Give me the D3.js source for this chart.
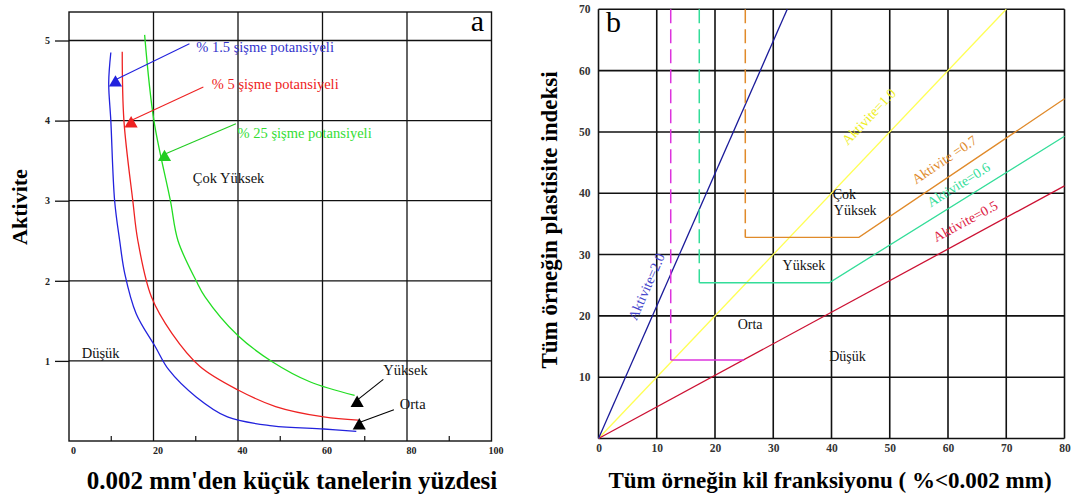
<!DOCTYPE html>
<html>
<head>
<meta charset="utf-8">
<script src="https://cdn.jsdelivr.net/npm/d3@7"></script>
<style>
  body { margin: 0; background: #fff; }
  text { font-family: "Liberation Serif", "Times New Roman", serif; }
</style>
</head>
<body>
<div id="chart"></div>
<script>
// ---- panel a : aktivite vs % < 0.002 mm
const xTicksA = [0, 20, 40, 60, 80, 100];
const xMinorA = [10, 30, 50, 70, 90];
const yTicksA = [1, 2, 3, 4, 5];

const curve15 = [[9.9, 4.85], [9.4, 4.47], [9.9, 4.0], [10.8, 3.0], [12.0, 2.5], [13.2, 2.09], [15.9, 1.59],
                 [20.4, 1.18], [23.6, 0.89], [30.1, 0.55], [37.5, 0.30], [48.1, 0.19], [60.3, 0.15], [68.0, 0.12]];
const curve5 = [[12.6, 4.86], [13.0, 4.0], [15.1, 3.0], [16.3, 2.5], [19.5, 1.8], [24.4, 1.34], [31.0, 0.93],
                [39.9, 0.64], [48.9, 0.43], [60.3, 0.30], [68.4, 0.26]];
const curve25 = [[17.9, 5.07], [20.1, 4.0], [24.0, 3.0], [25.8, 2.5], [30.1, 2.0], [32.2, 1.8], [39.9, 1.32],
                 [48.1, 0.99], [57.0, 0.74], [67.6, 0.57]];

// arrows: [from, to]
const arrowsA = [
  {from: [28.5, 4.96], to: [11.0, 4.51], color: "#2222dd"},
  {from: [31.8, 4.42], to: [14.7, 4.0], color: "#ee2222"},
  {from: [39.5, 3.96], to: [22.6, 3.58], color: "#22cc22"},
  {from: [74.4, 0.77], to: [68.2, 0.51], color: "#000"},
  {from: [76.9, 0.39], to: [68.7, 0.23], color: "#000"}
];
const labelsA = [
  {text: "% 1.5 şişme potansiyeli", at: [30.1, 4.86], color: "#3333cc"},
  {text: "% 5 şişme potansiyeli", at: [33.8, 4.39], color: "#ee2222"},
  {text: "% 25 şişme potansiyeli", at: [39.9, 3.78], color: "#33dd33"},
  {text: "Çok Yüksek", at: [29.3, 3.22], color: "#111"},
  {text: "Düşük", at: [3.0, 1.03], color: "#111"},
  {text: "Yüksek", at: [74.4, 0.82], color: "#111"},
  {text: "Orta", at: [78.3, 0.40], color: "#111"}
];

// ---- panel b : plastisite indeksi vs kil fraksiyonu
const xTicksB = [0, 10, 20, 30, 40, 50, 60, 70, 80];
const yTicksB = [0, 10, 20, 30, 40, 50, 60, 70];

const act20 = [[0, 0], [32.4, 70]];
const act10 = [[0, 0], [70, 70]];
const act05 = [[0, 0], [80, 41.2]];
const act07 = [[25.2, 32.8], [44.7, 32.8], [80, 55.4]];
const act06 = [[17.3, 25.4], [39.6, 25.4], [80, 49.3]];
const orta = [[12.4, 12.8], [25.0, 12.8]];
const dash07 = [[25.2, 70], [25.2, 32.8]];
const dash06 = [[17.3, 70], [17.3, 25.4]];
const dashOrta = [[12.4, 70], [12.4, 12.8]];

const lineLabelsB = [
  {text: "Aktivite=2.0", at: [9.6, 24.2], along: act20, color: "#4444cc", dy: -4},
  {text: "Aktivite=1.0", at: [47.5, 51.5], along: act10, color: "#eeee22", dy: -4},
  {text: "Aktivite =0.7", at: [60.2, 44.3], along: [[44.7, 32.8], [80, 55.4]], color: "#e08a2a", dy: -4},
  {text: "Aktivite=0.6", at: [62.6, 40.2], along: [[39.6, 25.4], [80, 49.3]], color: "#33dd99", dy: -4},
  {text: "Aktivite=0.5", at: [63.7, 34.2], along: act05, color: "#dd2244", dy: -4}
];
const labelsB = [
  {text: "Çok", at: [40.2, 39.1]},
  {text: "Yüksek", at: [40.4, 36.5]},
  {text: "Yüksek", at: [31.6, 27.5]},
  {text: "Orta", at: [23.9, 17.9]},
  {text: "Düşük", at: [39.6, 12.6]}
];

const W = 1073, H = 500;
const svg = d3.select("#chart").append("svg")
  .attr("width", W)
  .attr("height", H);

// ================= panel a =================
const xA = d3.scaleLinear().domain([0, 100]).range([69, 491.5]);
const yA = d3.scaleLinear().domain([0, 5]).range([441, 40.5]);
const topA = 12;

const ga = svg.append("g");

ga.selectAll(".hgrid").data(yTicksA).enter().append("line")
  .attr("x1", xA(0)).attr("x2", xA(100))
  .attr("y1", d => yA(d)).attr("y2", d => yA(d))
  .attr("stroke", "#111").attr("stroke-width", 1.3);

ga.selectAll(".vgrid").data(xTicksA.slice(1, -1)).enter().append("line")
  .attr("x1", d => xA(d)).attr("x2", d => xA(d))
  .attr("y1", yA(0)).attr("y2", topA)
  .attr("stroke", "#111").attr("stroke-width", 1.3);

ga.selectAll(".minor").data(xMinorA).enter().append("line")
  .attr("x1", d => xA(d)).attr("x2", d => xA(d))
  .attr("y1", yA(0)).attr("y2", yA(0) - 5)
  .attr("stroke", "#111").attr("stroke-width", 1.2);

ga.append("rect")
  .attr("x", xA(0)).attr("y", topA)
  .attr("width", xA(100) - xA(0)).attr("height", yA(0) - topA)
  .attr("fill", "none").attr("stroke", "#111").attr("stroke-width", 1.4);

const axA_y = ga.append("g")
  .attr("transform", `translate(${xA(0)},0)`)
  .call(d3.axisLeft(yA).tickValues(yTicksA).tickSize(14).tickPadding(5).tickFormat(d3.format("d")));
const axA_x = ga.append("g")
  .attr("transform", `translate(0,${yA(0)})`)
  .call(d3.axisBottom(xA).tickValues(xTicksA).tickSize(0).tickPadding(6).tickFormat(d3.format("d")));
[axA_y, axA_x].forEach(ax => {
  ax.select(".domain").remove();
  ax.selectAll("line").attr("stroke", "#111").attr("stroke-width", 1.3);
  ax.selectAll("text")
    .style("font-family", "'Liberation Serif', serif")
    .style("font-size", "10px").style("font-weight", "bold").attr("fill", "#222");
});
axA_x.selectAll("text").attr("dx", 4);

const lineA = d3.line().curve(d3.curveCatmullRom.alpha(0.5)).x(d => xA(d[0])).y(d => yA(d[1]));
[[curve15, "#2222dd"], [curve5, "#ee2222"], [curve25, "#22dd22"]].forEach(([pts, c]) => {
  ga.append("path").datum(pts)
    .attr("d", lineA)
    .attr("fill", "none").attr("stroke", c).attr("stroke-width", 1.3);
});

arrowsA.forEach(a => {
  ga.append("line")
    .attr("x1", xA(a.from[0])).attr("y1", yA(a.from[1]))
    .attr("x2", xA(a.to[0])).attr("y2", yA(a.to[1]))
    .attr("stroke", a.color).attr("stroke-width", 1.1);
  ga.append("path")
    .attr("d", d3.symbol(d3.symbolTriangle).size(75))
    .attr("transform", `translate(${xA(a.to[0])},${yA(a.to[1]) + 3})`)
    .attr("fill", a.color);
});

ga.selectAll(".lbl").data(labelsA).enter().append("text")
  .attr("x", d => xA(d.at[0])).attr("y", d => yA(d.at[1]))
  .attr("fill", d => d.color)
  .style("font-size", "14.5px")
  .text(d => d.text);

ga.append("text")
  .attr("x", 484).attr("y", 31)
  .attr("text-anchor", "end")
  .style("font-size", "30px")
  .text("a");

ga.append("text")
  .attr("transform", "translate(27,207) rotate(-90)")
  .attr("text-anchor", "middle")
  .style("font-size", "22px").style("font-weight", "bold")
  .text("Aktivite");

ga.append("text")
  .attr("x", 292).attr("y", 489)
  .attr("text-anchor", "middle")
  .style("font-size", "25px").style("font-weight", "bold")
  .text("0.002 mm'den küçük tanelerin yüzdesi");

// ================= panel b =================
const xB = d3.scaleLinear().domain([0, 80]).range([598.5, 1064.5]);
const yB = d3.scaleLinear().domain([0, 70]).range([438.5, 9.3]);

const gb = svg.append("g");

gb.selectAll(".hgrid").data(yTicksB).enter().append("line")
  .attr("x1", xB(0)).attr("x2", xB(80))
  .attr("y1", d => yB(d)).attr("y2", d => yB(d))
  .attr("stroke", "#111").attr("stroke-width", 1.6);
gb.selectAll(".vgrid").data(xTicksB).enter().append("line")
  .attr("x1", d => xB(d)).attr("x2", d => xB(d))
  .attr("y1", yB(0)).attr("y2", yB(70))
  .attr("stroke", "#111").attr("stroke-width", 1.6);

const axB_y = gb.append("g")
  .attr("transform", `translate(${xB(0)},0)`)
  .call(d3.axisLeft(yB).tickValues(yTicksB.slice(1)).tickSize(0).tickPadding(8));
const axB_x = gb.append("g")
  .attr("transform", `translate(0,${yB(0)})`)
  .call(d3.axisBottom(xB).tickValues(xTicksB).tickSize(0).tickPadding(5));
[axB_y, axB_x].forEach(ax => {
  ax.select(".domain").remove();
  ax.selectAll("text")
    .style("font-family", "'Liberation Serif', serif")
    .style("font-size", "11.5px").style("font-weight", "bold").attr("fill", "#333");
});

const lineB = d3.line().x(d => xB(d[0])).y(d => yB(d[1]));
const solidB = [
  [act10, "#ffff55", 1.3],
  [act05, "#cc1133", 1.3],
  [act07, "#e08a2a", 1.3],
  [act06, "#33dd99", 1.3],
  [orta, "#dd33dd", 1.3],
  [act20, "#1a1a99", 1.3]
];
solidB.forEach(([pts, c, w]) => {
  gb.append("path").datum(pts).attr("d", lineB)
    .attr("fill", "none").attr("stroke", c).attr("stroke-width", w);
});
[[dash07, "#e08a2a"], [dash06, "#33dd99"], [dashOrta, "#dd33dd"]].forEach(([pts, c]) => {
  gb.append("path").datum(pts).attr("d", lineB)
    .attr("fill", "none").attr("stroke", c).attr("stroke-width", 1.5)
    .attr("stroke-dasharray", "14,6");
});

lineLabelsB.forEach(l => {
  const p0 = l.along[0], p1 = l.along[l.along.length - 1];
  const ang = Math.atan2(yB(p1[1]) - yB(p0[1]), xB(p1[0]) - xB(p0[0])) * 180 / Math.PI;
  gb.append("text")
    .attr("transform", `translate(${xB(l.at[0])},${yB(l.at[1])}) rotate(${ang})`)
    .attr("text-anchor", "middle")
    .attr("dy", l.dy)
    .attr("fill", l.color)
    .style("font-size", "14px")
    .text(l.text);
});

gb.selectAll(".lbl").data(labelsB).enter().append("text")
  .attr("x", d => xB(d.at[0])).attr("y", d => yB(d.at[1]))
  .attr("fill", "#111")
  .style("font-size", "14px")
  .text(d => d.text);

gb.append("text")
  .attr("x", 606).attr("y", 32)
  .style("font-size", "30px")
  .text("b");

gb.append("text")
  .attr("transform", "translate(557,220) rotate(-90)")
  .attr("text-anchor", "middle")
  .style("font-size", "23px").style("font-weight", "bold")
  .text("Tüm örneğin plastisite indeksi");

gb.append("text")
  .attr("x", 830).attr("y", 488)
  .attr("text-anchor", "middle")
  .style("font-size", "23px").style("font-weight", "bold")
  .text("Tüm örneğin kil franksiyonu ( %<0.002 mm)");
</script>
</body>
</html>
